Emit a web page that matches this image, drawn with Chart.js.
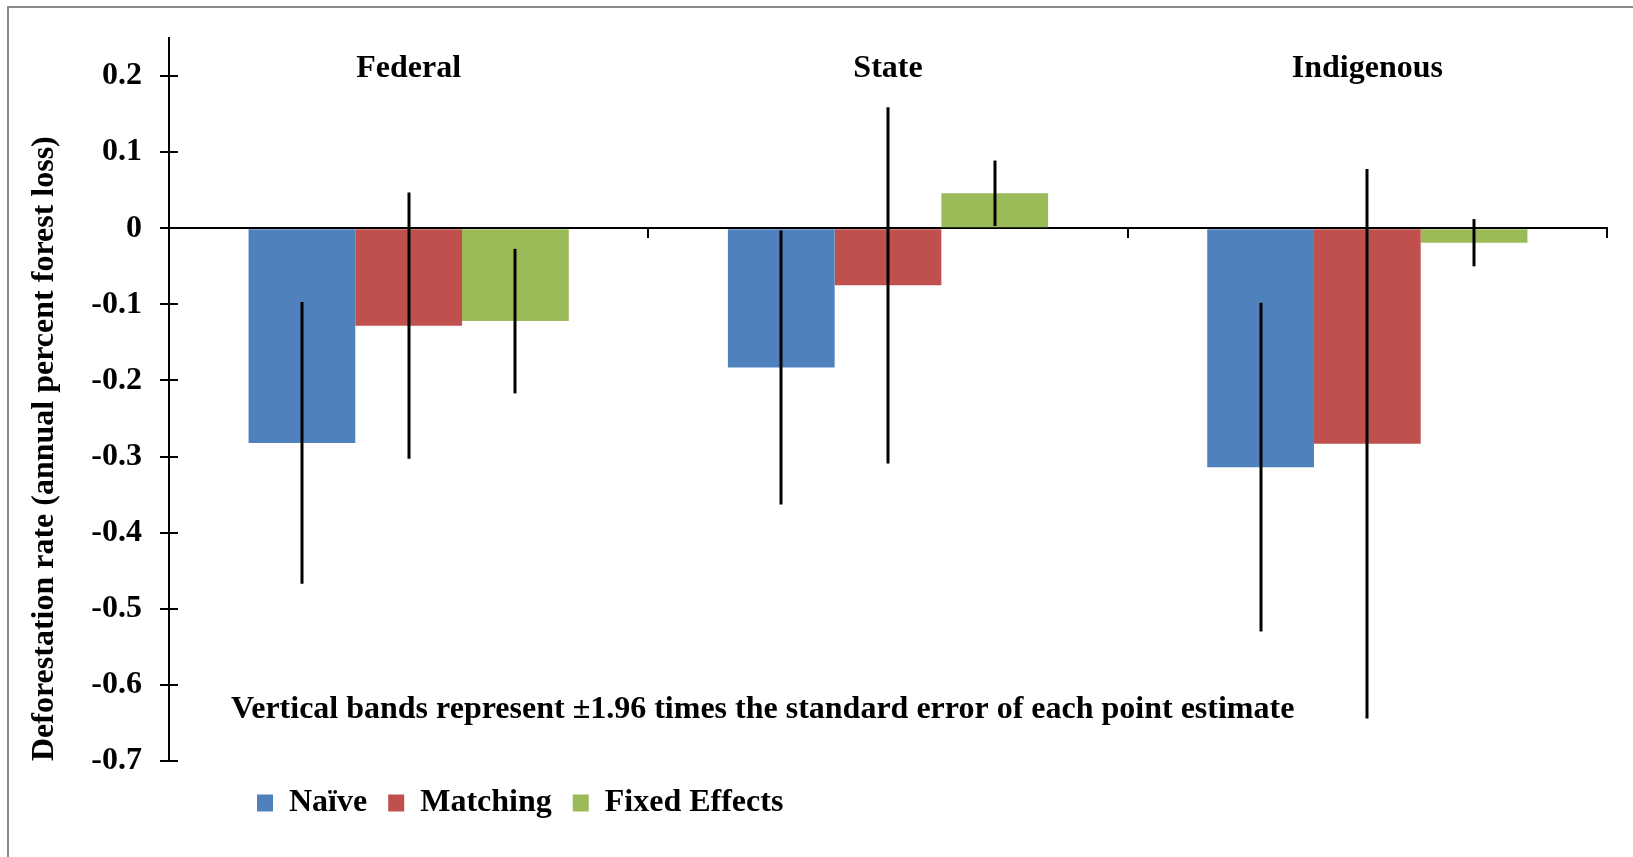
<!DOCTYPE html>
<html>
<head>
<meta charset="utf-8">
<title>Deforestation rate by protected area type</title>
<script src="https://cdn.jsdelivr.net/npm/chart.js@4.4.1/dist/chart.umd.min.js"></script>
<style>
  html, body { margin: 0; padding: 0; background: #fff; }
  #wrap { position: relative; width: 1633px; height: 857px; overflow: hidden; }
  #frame { position: absolute; left: 7px; top: 6px; right: -10px; bottom: -10px;
           border-left: 2px solid #8a8a8a; border-top: 2px solid #8a8a8a; }
  canvas { position: absolute; left: 0; top: 0; }
</style>
</head>
<body>
<div id="wrap">
  <canvas id="deforChart" width="1633" height="857"></canvas>
  <div id="frame"></div>
</div>
<script>
const categories = ["Federal", "State", "Indigenous"];
const seriesNames = ["Naïve", "Matching", "Fixed Effects"];
const naive = [-0.282, -0.183, -0.314];
const matching = [-0.128, -0.075, -0.283];
const fixedEffects = [-0.122, 0.046, -0.019];
// half height of each vertical band (1.96 x standard error)
const naiveErr = [0.185, 0.180, 0.216];
const matchingErr = [0.175, 0.234, 0.361];
const fixedErr = [0.095, 0.043, 0.031];
const yMin = -0.7, yMax = 0.25, yStep = 0.1;
const note = "Vertical bands represent ±1.96 times the standard error of each point estimate";

const serif = "'Liberation Serif', 'Times New Roman', serif";
const colors = ["#4F81BD", "#C0504D", "#9BBB59"];
const boldFont = size => ({ family: serif, size: size, weight: "bold" });

// vertical bands drawn over each bar
const errorBars = {
    id: "errorBars",
    afterDatasetsDraw(chart) {
        const ctx = chart.ctx;
        const y = chart.scales.y;
        ctx.save();
        ctx.strokeStyle = "#000";
        ctx.lineWidth = 3;
        chart.data.datasets.forEach((ds, d) => {
            chart.getDatasetMeta(d).data.forEach((bar, i) => {
                const v = ds.data[i], e = ds.errors[i];
                ctx.beginPath();
                ctx.moveTo(Math.round(bar.x), y.getPixelForValue(v + e));
                ctx.lineTo(Math.round(bar.x), y.getPixelForValue(v - e));
                ctx.stroke();
            });
        });
        ctx.restore();
    }
};

const decorations = {
    id: "decorations",
    afterLayout(chart) {
        // legend starts under the first bars, not at the canvas edge
        const lg = chart.legend;
        const dx = 236 - lg.left;
        lg.left += dx;
        lg.right += dx;
        lg.top += 5;
        lg.bottom += 5;
    },
    afterDraw(chart) {
        const ctx = chart.ctx;
        const x = chart.scales.x;
        const y = chart.scales.y;
        ctx.save();
        // y tick marks cross the axis
        ctx.strokeStyle = "#000";
        ctx.lineWidth = 2;
        y.ticks.forEach((t, i) => {
            const py = Math.round(y.getPixelForTick(i));
            ctx.beginPath();
            ctx.moveTo(y.right, py);
            ctx.lineTo(y.right + 9, py);
            ctx.stroke();
        });
        ctx.fillStyle = "#000";
        ctx.font = "bold 32px " + serif;
        ctx.textAlign = "center";
        ctx.textBaseline = "middle";
        categories.forEach((c, i) => {
            ctx.fillText(c, x.getPixelForValue(i), chart.chartArea.top + 31);
        });
        ctx.textAlign = "left";
        ctx.fillText(note, chart.chartArea.left + 62, y.getPixelForValue(-0.633));
        ctx.restore();
    }
};

new Chart(document.getElementById("deforChart"), {
    type: "bar",
    data: {
        labels: categories,
        datasets: [
            { label: seriesNames[0], data: naive, errors: naiveErr, backgroundColor: colors[0] },
            { label: seriesNames[1], data: matching, errors: matchingErr, backgroundColor: colors[1] },
            { label: seriesNames[2], data: fixedEffects, errors: fixedErr, backgroundColor: colors[2] }
        ]
    },
    options: {
        responsive: false,
        animation: false,
        devicePixelRatio: 1,
        layout: { padding: { top: 38, right: 26, bottom: 33, left: 0 } },
        datasets: { bar: { categoryPercentage: 0.668, barPercentage: 1, borderWidth: 0 } },
        scales: {
            x: {
                position: { y: 0 },
                grid: { drawOnChartArea: false, drawTicks: true, tickLength: 9, color: "#000", lineWidth: 2, offset: true },
                border: { display: true, color: "#000", width: 2 },
                ticks: { display: false }
            },
            y: {
                min: yMin,
                max: yMax,
                bounds: "data",
                ticks: {
                    stepSize: yStep,
                    includeBounds: false,
                    padding: 18,
                    color: "#000",
                    font: boldFont(32),
                    callback: v => String(+v.toFixed(1))
                },
                grid: { drawOnChartArea: false, tickLength: 9, color: "#000", lineWidth: 2 },
                border: { color: "#000", width: 2 },
                title: {
                    display: true,
                    text: "Deforestation rate (annual percent forest loss)",
                    align: "start",
                    color: "#000",
                    font: boldFont(32),
                    padding: { top: 26, bottom: 0 }
                },
                afterFit: s => { s.width = 169; }
            }
        },
        plugins: {
            legend: {
                position: "bottom",
                align: "start",
                labels: { boxWidth: 16, boxHeight: 17, padding: 21, color: "#000", font: boldFont(32) }
            },
            tooltip: { enabled: false }
        }
    },
    plugins: [errorBars, decorations]
});
</script>
</body>
</html>
